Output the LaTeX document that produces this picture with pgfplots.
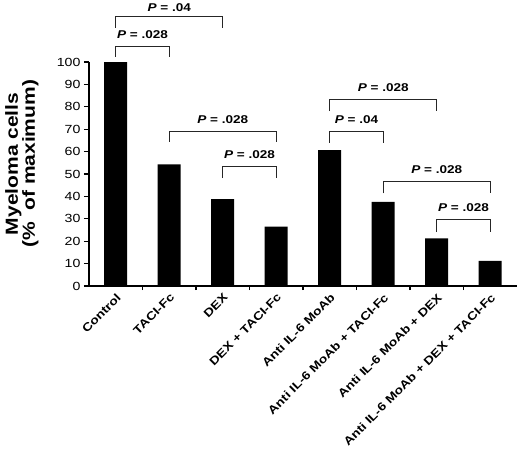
\documentclass[border=0pt]{standalone}
\usepackage{fontspec}
\setmainfont{Liberation Sans}[FakeStretch=1.2]
\usepackage{pgfplots}
\pgfplotsset{compat=1.18}

% significance bracket: x1, x2, lower end, top, label, label shift
\newcommand{\pbracket}[6]{%
  \draw[line width=1pt, black!85] (axis cs:#1,#3) -- (axis cs:#1,#4) --
    node[midway, anchor=base, yshift=#6, text=black,
         font=\fontsize{11.3}{12}\selectfont\bfseries] {\textit{P} = #5}
    (axis cs:#2,#4) -- (axis cs:#2,#3);
}

\begin{document}
\begin{tikzpicture}
\useasboundingbox (-89pt,-164pt) rectangle (431pt,286pt);
\begin{axis}[
    at={(0,0)}, anchor=south west,
    width=428pt, height=224pt, scale only axis,
    xmin=-0.5, xmax=7.5,
    ymin=0, ymax=100,
    axis lines=left,
    axis line style={-, line width=2.2pt},
    ybar, bar width=23pt,
    clip=false,
    ytick={0,10,...,100},
    xtick={0,...,7},
    xticklabels={Control, TACI-Fc, DEX, DEX + TACI-Fc, Anti IL-6 MoAb,
        Anti IL-6 MoAb + TACI-Fc, Anti IL-6 MoAb + DEX,
        Anti IL-6 MoAb + DEX + TACI-Fc},
    minor xtick={0.5,1.5,...,6.5},
    major x tick style={draw=none},
    tick align=outside,
    major tick length=5pt, minor tick length=4pt,
    tick style={line width=1.2pt, black},
    /pgf/number format/assume math mode=true,
    yticklabel style={font=\fontsize{11.8}{12}\selectfont},
    xticklabel style={rotate=45, anchor=north east, inner sep=1pt,
        font=\fontsize{11.5}{12}\selectfont\bfseries},
    ylabel={Myeloma cells\\(\%\ \ of maximum)},
    ylabel style={at={(axis description cs:-0.157,0.545)}, anchor=center,
        align=center, font=\fontsize{17.5}{17}\selectfont\bfseries},
]
\addplot[fill=black, draw=none] coordinates {
    (0,100) (1,54.3) (2,38.8) (3,26.5)
    (4,60.7) (5,37.6) (6,21.3) (7,11.2)
};
\pbracket{0}{2}{115.2}{120.2}{.04}{5pt}
\pbracket{0}{1}{102.4}{106.8}{.028}{8pt}
\pbracket{1}{3}{64.3}{68.9}{.028}{8pt}
\pbracket{2}{3}{48.2}{53.3}{.028}{8pt}
\pbracket{4}{6}{78.1}{83.3}{.028}{8pt}
\pbracket{4}{5}{64.0}{68.9}{.04}{8pt}
\pbracket{5}{7}{41.4}{46.6}{.028}{8pt}
\pbracket{6}{7}{24.1}{29.5}{.028}{8pt}
\end{axis}
\end{tikzpicture}
\end{document}
